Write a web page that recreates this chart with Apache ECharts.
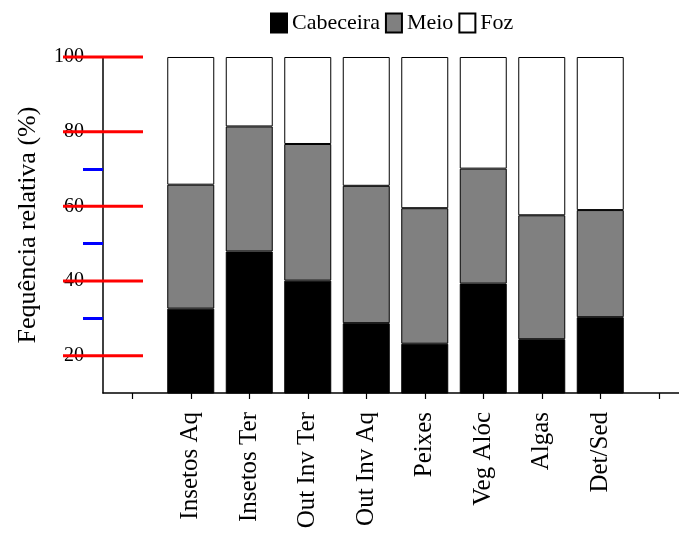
<!DOCTYPE html>
<html>
<head>
<meta charset="utf-8">
<script src="https://cdn.jsdelivr.net/npm/echarts@6/dist/echarts.min.js"></script>
<style>
  html, body { margin: 0; padding: 0; background: #fff; }
  #chart { width: 679px; height: 534px; }
</style>
</head>
<body>
<div id="chart"></div>
<script>
const categories = ['Insetos Aq', 'Insetos Ter', 'Out Inv Ter', 'Out Inv Aq', 'Peixes', 'Veg Alóc', 'Algas', 'Det/Sed'];
const cabeceira = [32.6, 47.9, 40.1, 28.7, 23.2, 39.3, 24.4, 30.3];
const meio      = [33.2, 33.5, 36.6, 36.8, 36.3, 30.8, 33.2, 28.7];
const foz       = [34.2, 18.6, 23.3, 34.5, 40.5, 29.9, 42.4, 41.0];
const yTicks = [20, 40, 60, 80, 100];
const yMin = 10, yMax = 100;

const pad = arr => [null].concat(arr, [null]);
const xData = [''].concat(categories, ['']);

const serif = '"Liberation Serif", "DejaVu Serif", serif';
const border = { borderColor: '#000', borderWidth: 1 };
const axisStroke = { color: '#000', width: 1.5 };
const tickLen = 6;

function series(name, values, color) {
  return {
    name: name, type: 'bar', stack: 'total', barWidth: 47,
    data: pad(values),
    itemStyle: Object.assign({ color: color }, border),
    emphasis: { disabled: true }
  };
}

const yTickMarks = {
  type: 'custom',
  silent: true,
  clip: false,
  z: 50,
  data: yTicks.map(v => [1, v]),
  encode: { x: 0, y: 1 },
  renderItem: function (params, api) {
    const cs = params.coordSys;
    const y = api.coord([1, api.value(1)])[1];
    return {
      type: 'line',
      shape: { x1: cs.x - 40, y1: y, x2: cs.x + 40, y2: y },
      style: { stroke: '#f00', lineWidth: 3 }
    };
  }
};

const chart = echarts.init(document.getElementById('chart'), null, { renderer: 'canvas' });
chart.setOption({
  animation: false,
  backgroundColor: '#fff',
  legend: {
    left: 270, top: 12, padding: 0, itemGap: 5, itemWidth: 16, itemHeight: 19, icon: 'rect',
    textStyle: { fontFamily: serif, fontSize: 22, color: '#000' },
    data: ['Cabeceira', 'Meio', 'Foz']
  },
  grid: { left: 103, top: 57, width: 585, height: 336, containLabel: false, outerBoundsMode: 'none' },
  xAxis: {
    type: 'category', data: xData, boundaryGap: true,
    axisLine: { show: true, lineStyle: axisStroke },
    axisTick: { show: true, inside: false, alignWithLabel: true, length: tickLen, interval: 0, lineStyle: { color: '#000', width: 1.2 } },
    axisLabel: { interval: 0, rotate: 90, margin: 19, fontFamily: serif, fontSize: 25, color: '#000' },
    splitLine: { show: false }
  },
  yAxis: {
    type: 'value', min: yMin, max: yMax,
    name: 'Fequência relativa (%)', nameLocation: 'middle', nameGap: 62,
    nameTextStyle: { fontFamily: serif, fontSize: 26, color: '#000' },
    axisLine: { show: true, lineStyle: axisStroke },
    axisTick: { show: true, length: 20, customValues: [30, 50, 70], lineStyle: { color: '#00f', width: 3 } },
    axisLabel: { customValues: yTicks, margin: 19, fontFamily: serif, fontSize: 20, color: '#000' },
    splitLine: { show: false }
  },
  series: [
    series('Cabeceira', cabeceira, '#000000'),
    series('Meio', meio, '#808080'),
    series('Foz', foz, '#ffffff'),
    yTickMarks
  ]
});
</script>
</body>
</html>
